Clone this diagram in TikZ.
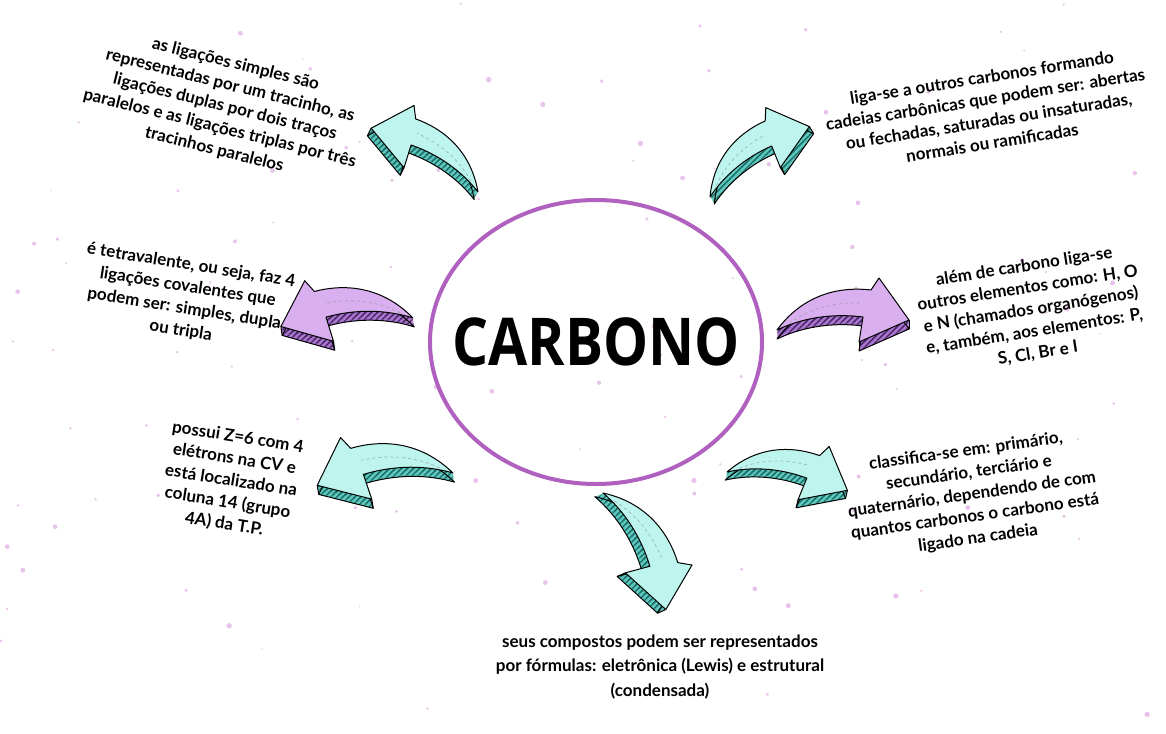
\documentclass[tikz,border=0pt]{standalone}
\usepackage{fontspec}
\setmainfont{Lato}
\newfontfamily\titlefont{Open Sans}[FakeStretch=0.86]
\usetikzlibrary{patterns.meta,shapes.geometric}
\definecolor{tealtop}{HTML}{BDF5EE}
\definecolor{tealside}{HTML}{5CC7BC}
\definecolor{tealdark}{HTML}{1E6F69}
\definecolor{purtop}{HTML}{D9AFF0}
\definecolor{purside}{HTML}{A874CF}
\definecolor{purdark}{HTML}{4B2A66}
\definecolor{ellcol}{HTML}{B061BF}
\definecolor{dotcol}{HTML}{E8C4EC}
\def\arrowshape{(0,0) .. controls (25,34) and (60,44) .. (94,40) -- (102,52) -- (132,10) -- (82,-12) -- (86,13) .. controls (55,17) and (25,12) .. (0,0) -- cycle}
\newcommand{\myarrow}[4]{%
\begin{scope}[#1]
  \foreach \k in {1,...,9}{\fill[#3,yshift=-\k pt] \arrowshape;}
  \foreach \k in {1,...,9}{\fill[pattern={Lines[angle=45,distance=4pt,line width=1.2pt]},pattern color=#4,yshift=-\k pt] \arrowshape;}
  \draw[black,line width=1pt,line join=round,yshift=-9pt] \arrowshape;
  \draw[black,line width=1pt] (132,10) -- (132,1) (82,-12) -- (82,-21) (102,52) -- (102,43) (86,13) -- (86,4);
  \filldraw[fill=#2,draw=black,line width=1pt,line join=round] \arrowshape;
  \draw[#4!45,dashed,line width=0.8pt] (12,7) .. controls (35,23) and (60,28) .. (86,27);
\end{scope}}
\tikzset{txt/.style={align=center,font=\fontsize{17}{22}\selectfont\bfseries}}
\begin{document}
\begin{tikzpicture}[x=1pt,y=1pt]
\useasboundingbox (0,0) rectangle (1166,-733);
\fill[white] (0,0) rectangle (1166,-733);
\pgfmathsetseed{11}
\foreach \i in {1,...,110}{%
  \pgfmathsetmacro\xx{rnd*1166}
  \pgfmathsetmacro\yy{-rnd*733}
  \pgfmathsetmacro\rr{0.8+rnd*2.0}
  \fill[dotcol] (\xx,\yy) circle (\rr);}
\node[draw=ellcol,line width=4pt,ellipse,minimum width=332pt,minimum height=284pt,inner sep=0pt] (c) at (596,-342) {};
\node[font=\titlefont\fontsize{66}{70}\selectfont\bfseries] (ct) at (596,-342) {CARBONO};
\myarrow{shift={(478,-192)},rotate=-26.5,xscale=-0.94,yscale=0.94}{tealtop}{tealside}{tealdark}
\myarrow{shift={(710,-197)},rotate=31,scale=0.92}{tealtop}{tealside}{tealdark}
\myarrow{shift={(413,-318)},rotate=8,xscale=-1}{purtop}{purside}{purdark}
\myarrow{shift={(777,-330)}}{purtop}{purside}{purdark}
\myarrow{shift={(453,-473)},rotate=9.5,xscale=-1.03,yscale=1.03}{tealtop}{tealside}{tealdark}
\myarrow{shift={(727,-472)},rotate=-13,scale=0.92}{tealtop}{tealside}{tealdark}
\myarrow{shift={(603,-493)},rotate=-66}{tealtop}{tealside}{tealdark}
\node[txt,rotate=-14] (t1) at (225,-107) {as ligações simples são\\representadas por um tracinho, as\\ligações duplas por dois traços\\paralelos e as ligações triplas por três\\tracinhos paralelos};
\node[txt,rotate=9] (t2) at (987,-110) {liga-se a outros carbonos formando\\cadeias carbônicas que podem ser: abertas\\ou fechadas, saturadas ou insaturadas,\\normais ou ramificadas};
\node[txt,rotate=-9] (t3) at (186,-298) {é tetravalente, ou seja, faz 4\\ligações covalentes que\\podem ser: simples, dupla\\ou tripla};
\node[txt,rotate=9] (t4) at (1031,-310) {além de carbono liga-se\\outros elementos como: H, O\\e N (chamados organógenos)\\e, também, aos elementos: P,\\S, Cl, Br e I};
\node[txt,rotate=-9] (t5) at (231,-481) {possui Z=6 com 4\\elétrons na CV e\\está localizado na\\coluna 14 (grupo\\4A) da T.P.};
\node[txt,rotate=8] (t6) at (972,-495) {classifica-se em: primário,\\secundário, terciário e\\quaternário, dependendo de com\\quantos carbonos o carbono está\\ligado na cadeia};
\node[align=center,font=\fontsize{17}{24.5}\selectfont\bfseries] (t7) at (660,-667) {seus compostos podem ser representados\\por fórmulas: eletrônica (Lewis) e estrutural\\(condensada)};
\end{tikzpicture}
\end{document}
